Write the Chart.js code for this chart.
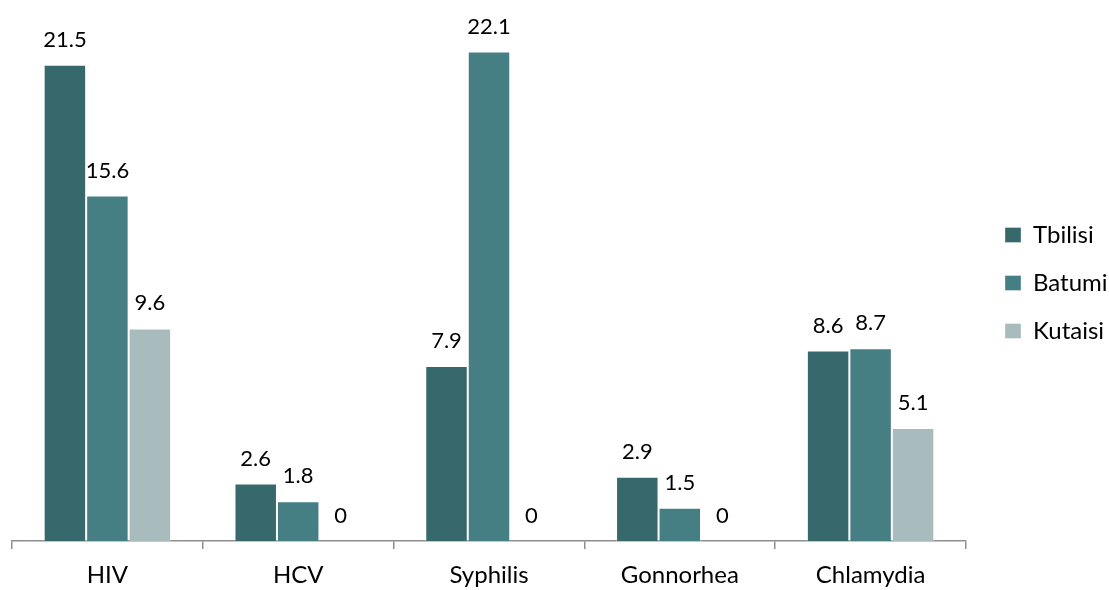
<!DOCTYPE html>
<html><head><meta charset="utf-8">
<script src="https://cdn.jsdelivr.net/npm/chart.js@4/dist/chart.umd.min.js"></script>
<style>html,body{margin:0;padding:0;background:#fff}#wrap{width:1109px;height:590px}</style>
</head><body><div id="wrap"><canvas id="c"></canvas></div>
<script>
const categories = ['HIV', 'HCV', 'Syphilis', 'Gonnorhea', 'Chlamydia'];
const tbilisi = [21.5, 2.6, 7.9, 2.9, 8.6];
const batumi = [15.6, 1.8, 22.1, 1.5, 8.7];
const kutaisi = [9.6, 0, 0, 0, 5.1];
const seriesNames = ['Tbilisi', 'Batumi', 'Kutaisi'];
const seriesColors = ['#37686b', '#457f84', '#a8bbbd'];

const FONT = 'Lato, "Open Sans", sans-serif';
const AXIS_SIZE = 24, VALUE_SIZE = 22, LEG_SIZE = 24, LEG_BOX = 16, LEG_PAD = 24;

// measure legend text to keep plot right edge fixed
const mctx = document.createElement('canvas').getContext('2d');
mctx.font = LEG_SIZE + 'px ' + FONT;
const maxLegW = Math.max(...seriesNames.map(s => mctx.measureText(s).width));
const legendW = LEG_BOX + LEG_SIZE / 2 + maxLegW + LEG_PAD + 10;
const rightPad = Math.max(0, 1109 - 966 - legendW);

const valueLabels = {
  id: 'valueLabels',
  afterDatasetsDraw(chart) {
    const ctx = chart.ctx;
    ctx.save();
    ctx.font = VALUE_SIZE + 'px ' + FONT;
    ctx.fillStyle = '#000';
    ctx.textAlign = 'center';
    ctx.textBaseline = 'middle';
    chart.data.datasets.forEach((ds, i) => {
      chart.getDatasetMeta(i).data.forEach((bar, j) => {
        ctx.fillText(String(ds.data[j]), bar.x, bar.y - 25);
      });
    });
    ctx.restore();
  }
};
const legendPlace = {
  id: 'legendPlace',
  afterLayout(chart) {
    const l = chart.legend;
    const w = l.width, h = l.height;
    l.left = 1005 - LEG_PAD; l.right = l.left + w;
    l.top = 223 - LEG_PAD; l.bottom = l.top + h;
  }
};

new Chart(document.getElementById('c'), {
  type: 'bar',
  data: {
    labels: categories,
    datasets: [tbilisi, batumi, kutaisi].map((d, i) => ({
      label: seriesNames[i],
      data: d,
      backgroundColor: seriesColors[i],
      borderColor: 'rgba(255,255,255,0.35)',
      borderWidth: 1,
      categoryPercentage: 0.668,
      barPercentage: 1
    }))
  },
  options: {
    responsive: true,
    maintainAspectRatio: false,
    animation: false,
    layout: { padding: { left: 12, top: 9.5, right: rightPad, bottom: 0 } },
    scales: {
      x: {
        afterFit(scale) { scale.height -= 11; },
        grid: { display: true, drawOnChartArea: false, drawTicks: true, tickLength: 8, color: '#8e8e8e', lineWidth: 1.5 },
        border: { display: true, color: '#8e8e8e', width: 1.5 },
        ticks: { color: '#000', font: { family: FONT, size: AXIS_SIZE, lineHeight: 1 }, padding: 14 }
      },
      y: { display: false, min: 0, max: 24 }
    },
    plugins: {
      tooltip: { enabled: false },
      legend: {
        position: 'right',
        align: 'start',
        labels: {
          boxWidth: LEG_BOX, boxHeight: 15, padding: LEG_PAD,
          color: '#000', font: { family: FONT, size: LEG_SIZE }
        }
      }
    }
  },
  plugins: [valueLabels, legendPlace]
});
</script></body></html>
